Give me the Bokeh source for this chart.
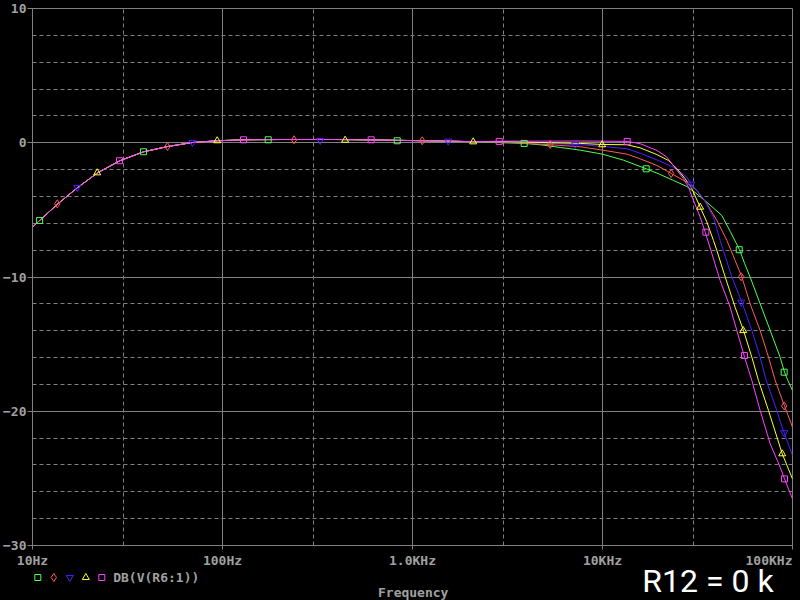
import numpy as np
from bokeh.plotting import figure
from bokeh.layouts import column
from bokeh.models import FixedTicker, Range1d, GlobalInlineStyleSheet, CustomJSTickFormatter
from bokeh.core.properties import value
from bokeh.embed import file_html
from bokeh.resources import INLINE

# ---------------- data ----------------
low_freq = [10, 10.9, 13.6, 17.3, 22.0, 28.8, 38.5, 51.5, 69.8, 94.2, 129, 200, 400, 700, 1130, 1540, 2090]
low_db = [-6.29, -5.79, -4.55, -3.33, -2.24, -1.34, -0.67, -0.28, 0.02, 0.15, 0.22, 0.24, 0.24, 0.20, 0.15, 0.12, 0.08]

green_freq = [3000, 3870, 4700, 5990, 7630, 10000, 12910, 16990, 20000, 23650, 27800, 31000, 35420, 39000,
              42480, 47000, 52610, 56000, 59860, 67590, 76350, 86110, 90780, 94590, 100000]
green_db = [0.0, -0.05, -0.15, -0.35, -0.55, -0.85, -1.30, -1.94, -2.35, -2.81, -3.26, -3.75, -4.43, -4.95,
            -5.42, -6.60, -7.97, -9.0, -10.01, -12.0, -13.99, -15.98, -17.09, -17.71, -18.46]

red_freq = [3000, 4700, 7630, 10000, 13490, 15790, 19330, 23000, 27800, 31410, 35420, 40000, 45170, 49890,
            54180, 59860, 67590, 74800, 81090, 87930, 90780, 100000]
red_db = [0.05, -0.10, -0.30, -0.55, -0.85, -1.20, -1.69, -2.29, -2.94, -3.55, -4.55, -5.79, -7.28, -8.77,
          -10.01, -12.0, -13.99, -15.98, -17.71, -19.08, -19.6, -21.19]

blue_freq = [3000, 4700, 7630, 10000, 13490, 15790, 19330, 23650, 27800, 29300, 34040, 38380, 41610, 47980,
             54180, 61120, 67590, 72740, 82780, 87930, 100000]
blue_db = [0.07, -0.02, -0.15, -0.27, -0.45, -0.78, -1.27, -1.82, -2.56, -3.08, -4.17, -5.54, -7.28, -10.01,
           -11.88, -13.99, -15.98, -17.71, -19.95, -21.14, -23.30]

yellow_freq = [3000, 4700, 7630, 10000, 13490, 15790, 19330, 22250, 24650, 27240, 29560, 32660, 35420, 38380,
               40000, 44260, 49890, 55250, 61120, 66220, 74800, 86110, 88310, 100000]
yellow_db = [0.08, 0.02, -0.05, -0.13, -0.15, -0.38, -0.88, -1.32, -1.94, -2.68, -3.43, -4.80, -5.90, -7.28,
             -8.03, -10.01, -12.25, -13.99, -15.98, -17.71, -19.95, -22.68, -23.17, -25.04]

magenta_freq = [3000, 4700, 7630, 10000, 13490, 15790, 19330, 21830, 24650, 26690, 28370, 30130, 32660, 34740,
                37660, 41610, 46990, 50960, 56000, 61120, 67590, 76350, 86110, 90780, 100000]
magenta_db = [0.12, 0.12, 0.13, 0.12, 0.10, -0.07, -0.57, -1.07, -2.06, -2.68, -3.31, -4.30, -5.54, -6.66,
              -8.27, -10.26, -12.25, -13.99, -16.0, -17.71, -19.95, -22.43, -24.17, -25.04, -26.53]

# marker positions on each trace
green_mk_f = [10.9, 38.4, 174, 831, 3870, 16980, 52430, 90370]
green_mk_db = [-5.79, -0.67, 0.22, 0.15, -0.05, -1.94, -7.97, -17.09]
red_mk_f = [13.5, 51.3, 238, 1125, 5307, 22990, 53700, 90370]
red_mk_db = [-4.55, -0.28, 0.22, 0.15, -0.13, -2.29, -9.98, -19.6]
blue_mk_f = [17.2, 69.5, 327, 1542, 7180, 29300, 53700, 90370]
blue_mk_db = [-3.33, 0.02, 0.17, 0.12, -0.13, -3.08, -11.88, -21.6]
yellow_mk_f = [21.9, 93.8, 442, 2087, 9960, 32660, 55030, 88300]
yellow_mk_db = [-2.24, 0.15, 0.19, 0.07, -0.15, -4.80, -13.99, -23.17]
magenta_mk_f = [28.7, 129, 606, 2860, 13490, 35000, 55900, 90780]
magenta_mk_db = [-1.34, 0.22, 0.22, 0.10, 0.10, -6.66, -15.85, -25.04]

x_ticks = [10, 100, 1000, 10000, 100000]
x_tick_labels = ["10Hz", "100Hz", "1.0KHz", "10KHz", "100KHz"]
x_minor = [30, 300, 3000, 30000]
y_ticks = [-30, -20, -10, 0, 10]
y_minor = [v for v in range(-28, 10, 2) if v % 10 != 0]

legend_text = "DB(V(R6:1))"
x_title = "Frequency"
note_text = "R12 = 0 k"

# ---------------- layout ----------------
W = 800
MAIN_H = 553
STRIP_H = 47
LEFT, RIGHT, TOP, BOTTOM = 32, 8, 8, 8
FW = W - LEFT - RIGHT  # 760 px -> 4 decades
X0, X1 = 10, 100000
Y0, Y1 = -30, 10


def xd(cx):
    """canvas pixel -> frequency (same mapping as the main frame)"""
    return 10 ** (np.log10(X0) + (cx - LEFT) / FW * (np.log10(X1) - np.log10(X0)))


GRAY = "#808080"
TXT = "#a0a0a0"
MONO = "DejaVu Sans Mono"

p = figure(width=W, height=MAIN_H, x_axis_type="log", x_range=(X0, X1), y_range=(Y0, Y1),
           min_border_left=LEFT, min_border_right=RIGHT, min_border_top=TOP, min_border_bottom=BOTTOM,
           output_backend="svg", toolbar_location=None,
           background_fill_color="black", border_fill_color="black")
p.frame_align = False
p.stylesheets = [GlobalInlineStyleSheet(css="body { background: black; }")]
p.outline_line_color = GRAY
p.outline_line_width = 1

xt = FixedTicker(ticks=x_ticks, minor_ticks=x_minor)
yt = FixedTicker(ticks=y_ticks, minor_ticks=y_minor)
p.xaxis.ticker = xt
p.yaxis.ticker = yt
p.xgrid[0].ticker = xt
p.ygrid[0].ticker = yt

xa = p.xaxis[0]
xa.formatter = CustomJSTickFormatter(code="return ''")
xa.major_label_text_font_size = "0px"
xa.major_label_standoff = 0
xa.axis_line_color = GRAY
xa.major_tick_line_color = GRAY
xa.major_tick_out = 4
xa.major_tick_in = 0
xa.minor_tick_line_color = None

ya = p.yaxis[0]
ya.axis_line_color = GRAY
ya.major_tick_line_color = GRAY
ya.major_tick_out = 5
ya.major_tick_in = 0
ya.minor_tick_line_color = None
ya.major_label_standoff = 1
ya.major_label_text_font = MONO
ya.major_label_text_font_style = "bold"
ya.major_label_text_font_size = "13px"
ya.major_label_text_color = TXT

for g in (p.xgrid[0], p.ygrid[0]):
    g.grid_line_color = GRAY
    g.grid_line_width = 1
    g.minor_grid_line_color = GRAY
    g.minor_grid_line_dash = "4 3"
    g.minor_grid_line_width = 1

traces = [
    ("#50ff50", green_freq, green_db, "square", green_mk_f, green_mk_db, 6),
    ("#ff5a5a", red_freq, red_db, "diamond", red_mk_f, red_mk_db, 8),
    ("#4a1fff", blue_freq, blue_db, "inverted_triangle", blue_mk_f, blue_mk_db, 7),
    ("#ffff33", yellow_freq, yellow_db, "triangle", yellow_mk_f, yellow_mk_db, 7),
    ("#ff44ff", magenta_freq, magenta_db, "square", magenta_mk_f, magenta_mk_db, 6),
]
for c, f, d, *_ in traces:
    p.line(low_freq + f, low_db + d, line_color=c, line_width=1)
for c, f, d, mk, mf, md, sz in traces:
    p.scatter(mf, md, marker=mk, size=sz, line_color=c, fill_color=None, line_width=1)

# ---------------- bottom strip: x tick labels, legend, titles ----------------
s = figure(width=W, height=STRIP_H, x_axis_type="log", x_range=Range1d(xd(0), xd(W)),
           y_range=Range1d(STRIP_H, 0), min_border=0,
           min_border_left=0, min_border_right=0, min_border_top=0, min_border_bottom=0,
           x_axis_location=None, y_axis_location=None,
           output_backend="svg", toolbar_location=None,
           background_fill_color="black", border_fill_color="black")
s.frame_align = False
s.outline_line_color = None
s.grid.visible = False

txt_kw = dict(text_font=value(MONO), text_font_style="bold", text_font_size=value("13px"), text_color=TXT)
s.text(x=x_ticks[:-1], y=[7] * (len(x_ticks) - 1), text=x_tick_labels[:-1],
       text_align="center", text_baseline="middle", **txt_kw)
s.text(x=x_ticks[-1:], y=[7], text=x_tick_labels[-1:],
       text_align="right", text_baseline="middle", **txt_kw)

# legend row: one marker per trace, then the expression
legend_px = [37.3, 53.3, 69.3, 85.3, 101.3]
for (c, f, d, mk, mf, md, sz), lx in zip(traces, legend_px):
    s.scatter([xd(lx)], [24], marker=mk, size=sz, line_color=c, fill_color=None, line_width=1)
s.text(x=[xd(112.7)], y=[24], text=[legend_text], text_align="left", text_baseline="middle", **txt_kw)

# axis title
s.text(x=[xd(412.7)], y=[38.5], text=[x_title], text_align="center", text_baseline="middle", **txt_kw)

# annotation
s.text(x=[xd(707.5)], y=[27.3], text=[note_text], text_align="center", text_baseline="middle",
       text_font=value("Roboto"), text_font_size=value("32px"), text_color="white")

layout = column(p, s, spacing=0)
open("out.html", "w").write(file_html(layout, INLINE))
